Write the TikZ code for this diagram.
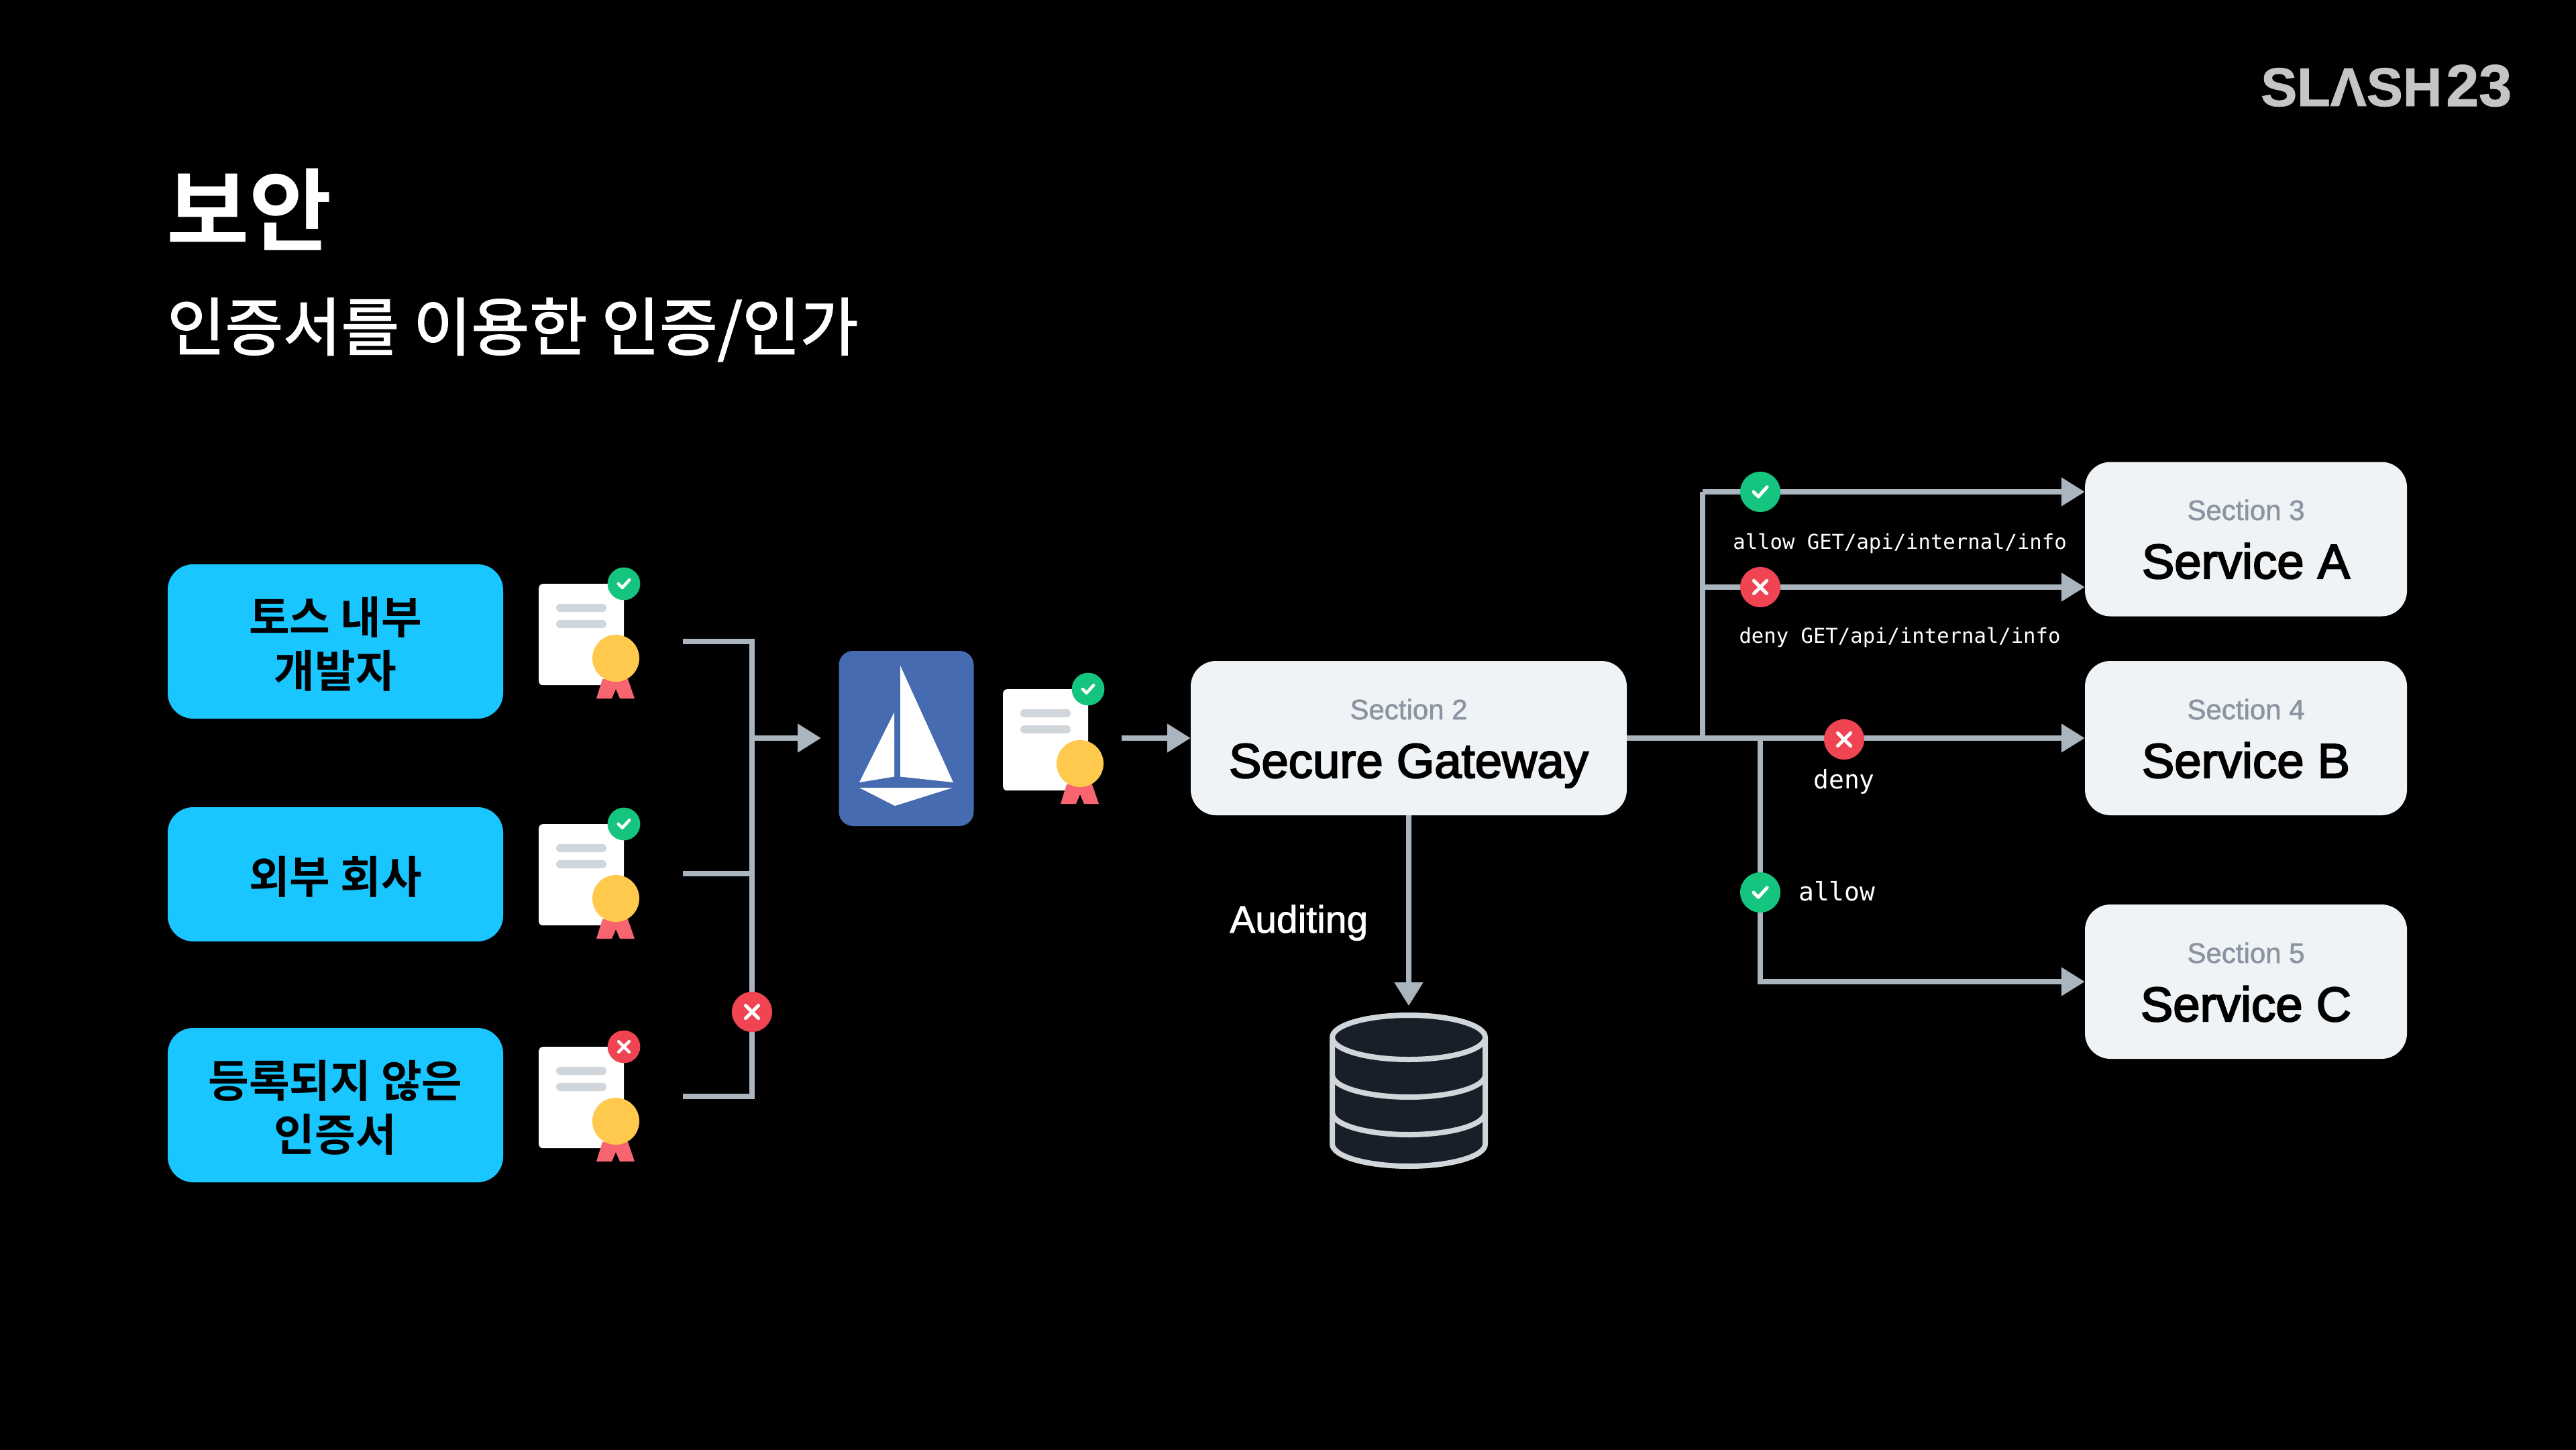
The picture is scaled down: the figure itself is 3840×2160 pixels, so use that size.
\documentclass[tikz,border=0pt]{standalone}
\usepackage{fontspec}
\usetikzlibrary{arrows.meta}
\setmainfont{Noto Sans CJK KR}
\newfontfamily\krmed[FakeBold=1.9]{Noto Sans CJK KR}
\newfontfamily\latinmed[FakeBold=1.4]{Liberation Sans}
\newfontfamily\latinsemi[FakeBold=2.8]{Liberation Sans}
\newfontfamily\logofont[FakeBold=1.2]{Liberation Sans Bold}
\newfontfamily\monofont{DejaVu Sans Mono}
\newfontfamily\krbold{Noto Sans CJK KR Bold}
\definecolor{lineg}{HTML}{AAB5C0}
\definecolor{boxg}{HTML}{EFF3F6}
\definecolor{secg}{HTML}{8B95A1}
\definecolor{redb}{HTML}{F04452}
\definecolor{greenb}{HTML}{15C47E}
\definecolor{cyanb}{HTML}{19C6FF}
\definecolor{istiob}{HTML}{466BB0}
\definecolor{sealy}{HTML}{FFC94D}
\definecolor{ribbon}{HTML}{F66570}
\definecolor{docg}{HTML}{D1D6DB}
\definecolor{dbfill}{HTML}{191F28}
\definecolor{logog}{HTML}{C4C5C7}
\tikzset{
  conn/.style={draw=lineg,line width=8pt},
  arr/.style={conn,-{Triangle[length=35pt,width=41pt]}},
  bluebox/.style={fill=cyanb,rounded corners=38pt,inner sep=0pt},
  bluetxt/.style={inner sep=0pt,text=black,align=center,font=\fontsize{66}{80}\krbold},
  svcbox/.style={fill=boxg,rounded corners=38pt,inner sep=0pt},
  sectxt/.style={anchor=base,text=secg,inner sep=0pt,font=\fontsize{42}{42}\latinmed},
  svctxt/.style={anchor=base,text=black,inner sep=0pt,font=\fontsize{72.5}{73}\latinsemi},
  monotxt/.style={text=white,inner sep=0pt,font=\fontsize{30.6}{30.6}\monofont},
  monobig/.style={text=white,inner sep=0pt,font=\fontsize{38}{38}\monofont},
  badge/.style={circle,inner sep=0pt,minimum size=#1},
  mk/.style={draw=white,line cap=round,line join=round}
}
% name, x, y (top-left of the sheet)
\newcommand\certdoc[3]{%
  \begin{scope}[shift={(#2,#3)}]
    \node[fill=white,rounded corners=6pt,inner sep=0pt,minimum width=127pt,minimum height=151pt,anchor=north west] (#1) at (0,0) {};
    \fill[docg,rounded corners=6pt] (26,30) rectangle (101,42);
    \fill[docg,rounded corners=6pt] (26,54) rectangle (101,66);
    \fill[ribbon] (95,142) -- (86,171) -- (109,171) -- (115,157) -- (121,171) -- (143,171) -- (133,142) -- cycle;
    \fill[sealy] (115,111) circle (35);
  \end{scope}}
% name, x, y, half-size, line width
\newcommand\okbadge[5]{%
  \node[badge=#4*2.5pt,fill=greenb] (#1) at (#2,#3) {};
  \draw[mk,line width=#5pt] ([shift={(-#4*.42,0)}]#1.center) -- ([shift={(-#4*.12,#4*.30)}]#1.center) -- ([shift={(#4*.42,-#4*.30)}]#1.center);}
\newcommand\nobadge[5]{%
  \node[badge=#4*2.5pt,fill=redb] (#1) at (#2,#3) {};
  \draw[mk,line width=#5pt] ([shift={(-#4*.4,-#4*.4)}]#1.center) -- ([shift={(#4*.4,#4*.4)}]#1.center);
  \draw[mk,line width=#5pt] ([shift={(-#4*.4,#4*.4)}]#1.center) -- ([shift={(#4*.4,-#4*.4)}]#1.center);}
\begin{document}
\begin{tikzpicture}[x=1pt,y=-1pt]
\useasboundingbox (0,0) rectangle (3840,2160);
\fill[black] (-10,-10) rectangle (3850,2170);

% titles and logo
\node[anchor=base west,inner sep=0pt,text=white,font=\fontsize{134}{134}\krbold] (title) at (248,363) {보안};
\node[anchor=base west,inner sep=0pt,text=white,font=\fontsize{94}{94}\krmed] (subtitle) at (249,522) {인증서를 이용한 인증/인가};
\node[anchor=base west,inner sep=0pt,text=logog,font=\fontsize{81}{81}\logofont] (logoa) at (3370,158) {SLΛSH};
\node[anchor=base west,inner sep=0pt,text=logog,font=\fontsize{88}{88}\logofont] (logob) at (3646,158) {23};

% client boxes
\node[bluebox,minimum width=500pt,minimum height=230pt] (c1) at (500,956) {};
\node[bluebox,minimum width=500pt,minimum height=200pt] (c2) at (500,1303) {};
\node[bluebox,minimum width=500pt,minimum height=230pt] (c3) at (500,1647) {};
\node[bluetxt] (c1t) at (500,960) {토스 내부\\개발자};
\node[bluetxt] (c2t) at (500,1307) {외부 회사};
\node[bluetxt] (c3t) at (500,1651) {등록되지 않은\\인증서};

% certificates
\certdoc{d1}{803}{870}
\certdoc{d2}{803}{1228}
\certdoc{d3}{803}{1560}
\certdoc{d4}{1495}{1027}

% istio
\node[fill=istiob,rounded corners=21pt,inner sep=0pt,minimum width=201pt,minimum height=261pt] (istio) at (1351,1100.5) {};
\fill[white] (1342,992) -- (1342,1157.5) -- (1421,1166) -- cycle;
\fill[white] (1333,1061.5) -- (1333,1157.5) -- (1281,1166) -- cycle;
\fill[white] (1281,1174) -- (1420,1174) -- (1334,1201) -- cycle;

% gateway and services
\node[svcbox,minimum width=650pt,minimum height=230pt] (gw) at (2100,1100) {};
\node[svcbox,minimum width=480pt,minimum height=230pt] (sa) at (3348,803.5) {};
\node[svcbox,minimum width=480pt,minimum height=230pt] (sb) at (3348,1100) {};
\node[svcbox,minimum width=480pt,minimum height=230pt] (sc) at (3348,1463) {};
\node[sectxt] (t2a) at (2100,1072) {Section 2};
\node[svctxt] (t2b) at (2100,1159) {Secure Gateway};
\node[sectxt] (t3a) at (3348,775) {Section 3};
\node[svctxt] (t3b) at (3348,862) {Service A};
\node[sectxt] (t4a) at (3348,1072) {Section 4};
\node[svctxt] (t4b) at (3348,1159) {Service B};
\node[sectxt] (t5a) at (3348,1435) {Section 5};
\node[svctxt] (t5b) at (3348,1522) {Service C};

% database
\begin{scope}[line width=8pt,draw=docg,fill=dbfill]
  \node[inner sep=0pt,minimum width=236pt,minimum height=234pt] (db) at (2100,1626) {};
  \filldraw (1986,1546) -- (1986,1705) arc[start angle=180,end angle=360,x radius=114,y radius=-33] -- (2214,1546) arc[start angle=0,end angle=180,x radius=114,y radius=-33] -- cycle;
  \draw (1986,1546) arc[start angle=180,end angle=360,x radius=114,y radius=-33];
  \draw (1986,1602) arc[start angle=180,end angle=360,x radius=114,y radius=-33];
  \draw (1986,1658) arc[start angle=180,end angle=360,x radius=114,y radius=-33];
\end{scope}

% junctions
\coordinate (j1a) at (1018,956);
\coordinate (j2a) at (1018,1302);
\coordinate (j3a) at (1018,1634);
\coordinate (j1) at (1121,956);
\coordinate (j2) at (1121,1302);
\coordinate (j3) at (1121,1634);
\coordinate (jm) at (1121,1100);
\coordinate (jmt) at (1224,1100);
\coordinate (ja) at (1672,1100);
\coordinate (gwr) at (2538,1100);
\coordinate (gws) at (2624,1100);
\coordinate (jt) at (2538,733);
\coordinate (jd) at (2538,875);
\coordinate (jc) at (2624,1463);

% connectors
\draw[conn,line join=miter] (j1a) -- (j1) -- (j3) -- (j3a);
\draw[conn] (j2a) -- (j2);
\draw[arr] (jm) -- (jmt);
\draw[arr] (ja) -- (gw.west);
\draw[arr] (gw.south) -- ([yshift=6pt]db.north);
\draw[arr] (gw.east) -- (sb.west);
\draw[conn,line join=miter] (gwr) -- (jt);
\draw[arr] (jt) -- (sa.west |- jt);
\draw[arr] (jd) -- (sa.west |- jd);
\draw[arr,line join=miter] (gws) -- (jc) -- (sc.west);

% badges on certificates
\okbadge{b1}{930}{870}{19.5}{4.5}
\okbadge{b2}{930}{1228}{19.5}{4.5}
\nobadge{b3}{930}{1560}{19.5}{4.5}
\okbadge{b4}{1622}{1027}{19.5}{4.5}
% badges on connectors
\nobadge{br}{1121}{1508}{24}{5}
\okbadge{r1}{2624}{733}{24}{5}
\nobadge{r2}{2624}{875}{24}{5}
\nobadge{r3}{2749}{1102}{24}{5}
\okbadge{r4}{2624}{1330}{24}{5}

% labels
\node[monotxt] (l1) at (2832,810) {allow GET/api/internal/info};
\node[monotxt] (l2) at (2832,950) {deny GET/api/internal/info};
\node[monobig] (l3) at (2749,1165) {deny};
\node[monobig,anchor=west] (l4) at (2681,1328) {allow};
\node[anchor=base west,inner sep=0pt,text=white,font=\fontsize{57}{57}\latinmed] (aud) at (1833,1390) {Auditing};
\end{tikzpicture}
\end{document}
